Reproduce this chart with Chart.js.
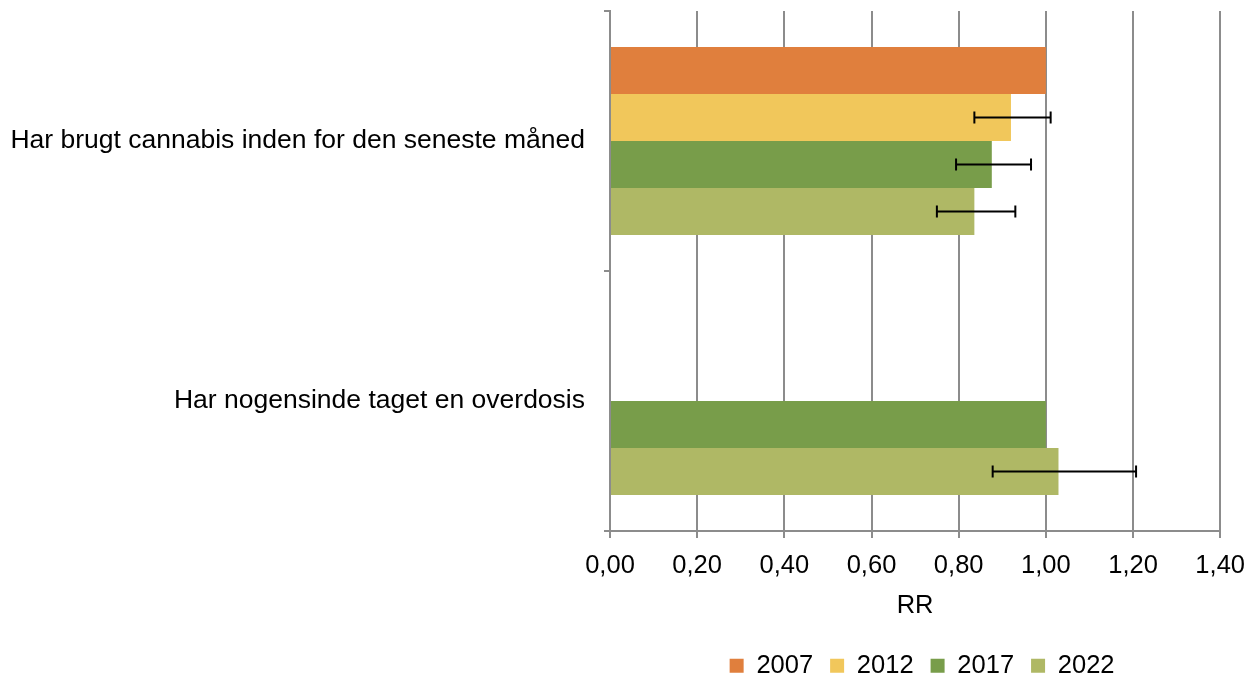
<!DOCTYPE html>
<html>
<head>
<meta charset="utf-8">
<script src="https://cdn.jsdelivr.net/npm/chart.js@4.4.1/dist/chart.umd.min.js"></script>
<style>
html,body{margin:0;padding:0;background:#fff}
#wrap{width:1258px;height:680px}
</style>
</head>
<body>
<div id="wrap"><canvas id="chart" width="1258" height="680"></canvas></div>
<script>
// kategorier og relative risici (RR)
const categories = ['Har brugt cannabis inden for den seneste måned', 'Har nogensinde taget en overdosis'];
const years = ['2007', '2012', '2017', '2022'];
const rr2007 = [1.00, null];
const rr2012 = [0.920, null];
const rr2017 = [0.876, 1.00];
const rr2022 = [0.836, 1.029];
// konfidensintervaller
const low2012 = [0.836, null], high2012 = [1.011, null];
const low2017 = [0.794, null], high2017 = [0.966, null];
const low2022 = [0.750, 0.878], high2022 = [0.930, 1.207];
const xMin = 0, xMax = 1.4, xStep = 0.2;

const colors = ['#E07F3D', '#F1C75B', '#789D4A', '#AFB865'];
const grid = '#8c8c8c';

Chart.defaults.font.family = '"Liberation Sans", Arial, sans-serif';
Chart.defaults.font.size = 25.5;
Chart.defaults.color = '#000';

const errorBars = {
  id: 'errorBars',
  afterDatasetsDraw(chart) {
    const ctx = chart.ctx, x = chart.scales.x;
    chart.data.datasets.forEach((ds, di) => {
      if (!ds.errLow) return;
      chart.getDatasetMeta(di).data.forEach((bar, i) => {
        const lo = ds.errLow[i], hi = ds.errHigh[i];
        if (lo == null || hi == null) return;
        const x1 = x.getPixelForValue(lo), x2 = x.getPixelForValue(hi), y = bar.y;
        ctx.save();
        ctx.strokeStyle = '#000'; ctx.lineWidth = 2;
        ctx.beginPath();
        ctx.moveTo(x1, y); ctx.lineTo(x2, y);
        ctx.moveTo(x1, y - 6); ctx.lineTo(x1, y + 6);
        ctx.moveTo(x2, y - 6); ctx.lineTo(x2, y + 6);
        ctx.stroke();
        ctx.restore();
      });
    });
  }
};

// legenden står lidt til højre for plotområdets midte i originalen
const nudgeLegend = {
  id: 'nudgeLegend',
  afterLayout(chart) { chart.legend.left += 7; chart.legend.right += 7; }
};

const series = [rr2007, rr2012, rr2017, rr2022];
const lows = [null, low2012, low2017, low2022];
const highs = [null, high2012, high2017, high2022];

new Chart(document.getElementById('chart'), {
  type: 'bar',
  data: {
    labels: categories,
    datasets: years.map((y, i) => ({
      label: y, data: series[i], backgroundColor: colors[i], borderWidth: 0,
      errLow: lows[i], errHigh: highs[i],
      categoryPercentage: 0.723, barPercentage: 1
    }))
  },
  options: {
    indexAxis: 'y',
    responsive: false,
    animation: false,
    layout: {padding: {top: 11, right: 37, bottom: 0, left: 0}},
    scales: {
      x: {
        min: xMin, max: xMax,
        afterFit(s) { s.height = 105; },
        ticks: {stepSize: xStep, padding: 13, maxRotation: 0, callback: v => v.toFixed(2).replace('.', ',')},
        grid: {color: grid, lineWidth: 2, tickLength: 7},
        border: {color: grid, width: 2},
        title: {display: true, text: 'RR', padding: {top: 0, bottom: 15}}
      },
      y: {
        afterFit(s) { s.width = 610; s.paddingTop = 0; s.paddingBottom = 0; },
        ticks: {padding: 19, font: {size: 26.5}},
        grid: {drawOnChartArea: false, color: grid, lineWidth: 2, tickLength: 6},
        border: {color: grid, width: 2}
      }
    },
    plugins: {
      legend: {
        position: 'bottom', fullSize: false, maxHeight: 44,
        labels: {boxWidth: 14, boxHeight: 14, padding: 17}
      },
      tooltip: {enabled: false}
    }
  },
  plugins: [errorBars, nudgeLegend]
});
</script>
</body>
</html>
